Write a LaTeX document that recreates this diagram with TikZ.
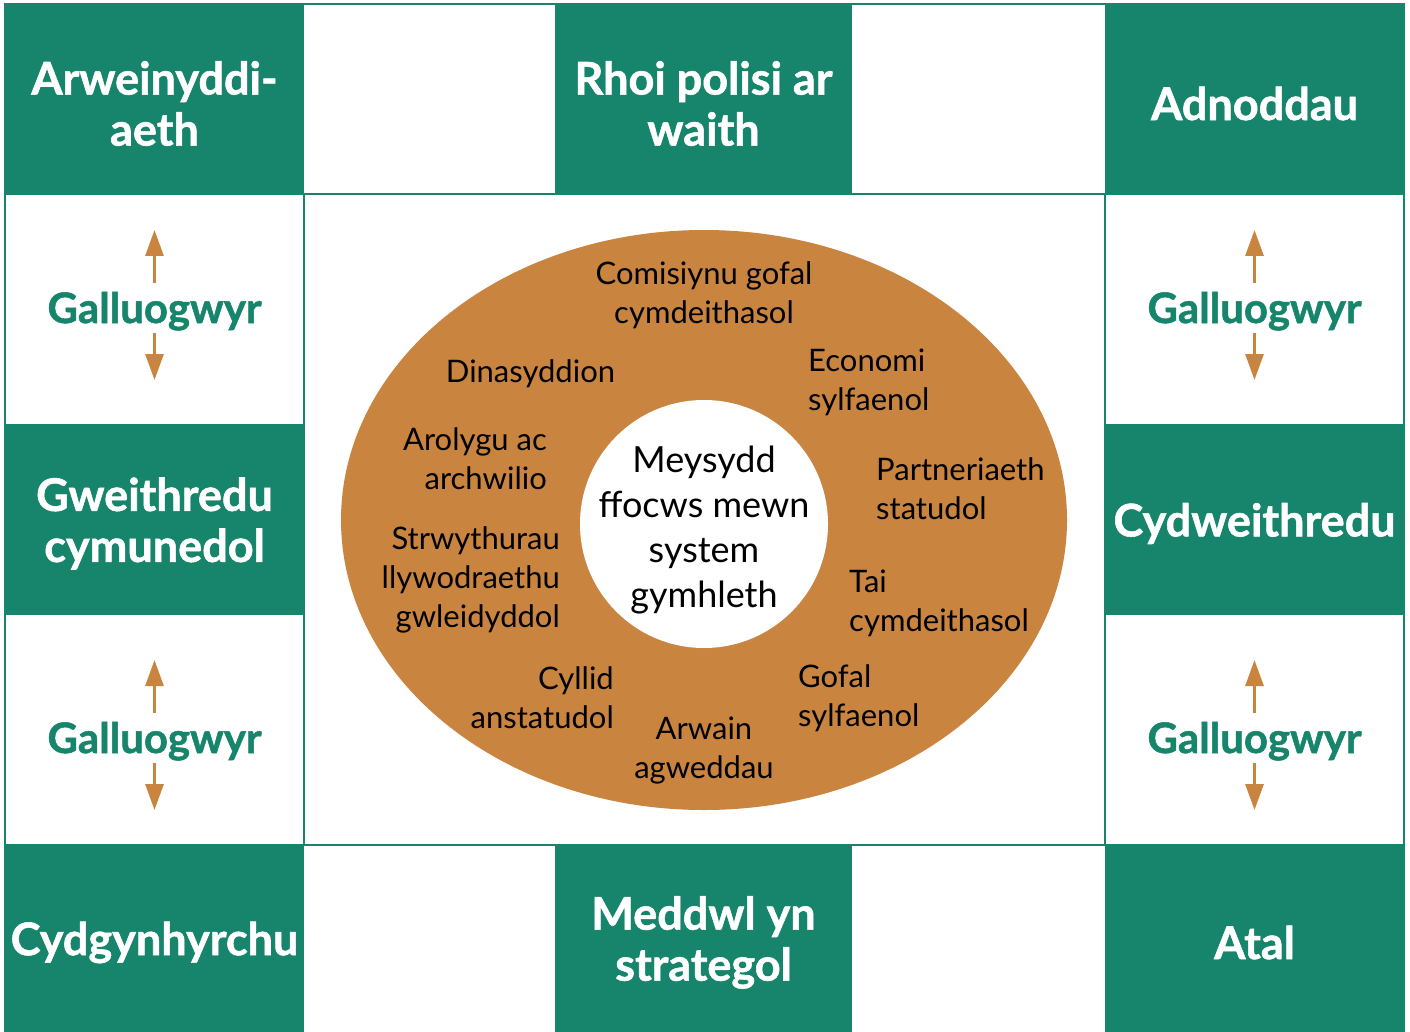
\documentclass[tikz,border=0pt]{standalone}
\usepackage{fontspec}
\setmainfont{Lato}[BoldFeatures={FakeBold=1.2}]
\usetikzlibrary{arrows.meta}
\definecolor{gwyrdd}{RGB}{22,133,108}
\definecolor{oren}{RGB}{201,132,64}

\begin{document}
\begin{tikzpicture}[x=1pt,y=-1pt,>={Triangle[width=18pt,length=26pt]},
blwch/.style={rectangle,fill=gwyrdd,inner sep=0pt,minimum width=299pt,minimum height=189pt},
pennawd/.style={inner sep=0pt,text=white,align=center,yshift=-4pt,
 font=\fontsize{45}{51}\selectfont\bfseries},
galluogwyr/.style={inner sep=0pt,text=gwyrdd,text height=40pt,text depth=10pt,
 font=\fontsize{42}{50}\selectfont\bfseries},
saeth/.style={->,draw=oren,fill=oren,line width=3pt},
ffin/.style={draw=gwyrdd,line width=2pt},
maes/.style={inner sep=0pt,font=\fontsize{31}{39}\selectfont}
]

\pgfmathsetmacro{\chwith}{154.5}
\pgfmathsetmacro{\canol}{704}
\pgfmathsetmacro{\de}{1254.5}

\useasboundingbox (0,0) rectangle (1410,1032);
\fill[white] (0,0) rectangle (1410,1032);

% fframiau
\draw[ffin] (5,4) rectangle (1404,1040);
\draw[ffin] (5,194) rectangle (304,425);
\draw[ffin] (5,614) rectangle (304,845);
\draw[ffin] (1105,194) rectangle (1404,425);
\draw[ffin] (1105,614) rectangle (1404,845);
\draw[ffin] (304,194) rectangle (1105,845);

% blychau gwyrdd
\node[blwch](blwch-tl) at (\chwith,99.5){};
\node[blwch,minimum width=297pt](blwch-tm) at (703.5,99.5){};
\node[blwch](blwch-tr) at (\de,99.5){};
\node[blwch](blwch-ml) at (\chwith,519.5){};
\node[blwch](blwch-mr) at (\de,519.5){};
\node[blwch,minimum height=187pt](blwch-bl) at (\chwith,938.5){};
\node[blwch,minimum width=297pt,minimum height=187pt](blwch-bm) at (703.5,938.5){};
\node[blwch,minimum height=187pt](blwch-br) at (\de,938.5){};

\node[pennawd](arweinyddiaeth) at (blwch-tl){Arweinyddi-\\aeth};
\node[pennawd](polisi) at (blwch-tm){Rhoi polisi ar\\waith};
\node[pennawd](adnoddau) at (blwch-tr){Adnoddau};
\node[pennawd](gweithredu) at (blwch-ml){Gweithredu\\cymunedol};
\node[pennawd](cydweithredu) at (blwch-mr){Cydweithredu};
\node[pennawd](cydgynhyrchu) at (blwch-bl){Cydgynhyrchu};
\node[pennawd](meddwl) at (blwch-bm){Meddwl yn\\strategol};
\node[pennawd](atal) at (blwch-br){Atal};

% galluogwyr
\node[galluogwyr](gal-l1) at (\chwith,308){Galluogwyr};
\node[galluogwyr](gal-l2) at (\chwith,738){Galluogwyr};
\node[galluogwyr](gal-r1) at (\de,308){Galluogwyr};
\node[galluogwyr](gal-r2) at (\de,738){Galluogwyr};

\coordinate (l1-up) at (\chwith,230);
\coordinate (l1-down) at (\chwith,380);
\coordinate (l2-up) at (\chwith,660);
\coordinate (l2-down) at (\chwith,810);
\coordinate (r1-up) at (\de,230);
\coordinate (r1-down) at (\de,380);
\coordinate (r2-up) at (\de,660);
\coordinate (r2-down) at (\de,810);

\begin{scope}[saeth]
\draw (gal-l1.north)--(l1-up);
\draw (gal-l1.south)--(l1-down);
\draw (gal-l2.north)--(l2-up);
\draw (gal-l2.south)--(l2-down);
\draw (gal-r1.north)--(r1-up);
\draw (gal-r1.south)--(r1-down);
\draw (gal-r2.north)--(r2-up);
\draw (gal-r2.south)--(r2-down);
\end{scope}

% yr elips
\fill[oren] (\canol,520) ellipse [x radius=363pt, y radius=290pt];
\fill[white] (\canol,524) circle [radius=124pt];
\node[inner sep=0pt,align=center,
 font=\fontsize{36}{45}\selectfont](craidd) at (\canol,530){Meysydd\\ffocws mewn\\system\\gymhleth};

\node[maes,align=center](comisiynu) at (\canol,295){Comisiynu gofal\\cymdeithasol};
\node[maes](dinasyddion) at (530.5,374){Dinasyddion};
\node[maes,anchor=west,align=left](economi) at (808,382){Economi\\sylfaenol};
\node[maes,anchor=east,align=right](arolygu) at (547,459){Arolygu ac\\archwilio};
\node[maes,anchor=west,align=left](partneriaeth) at (876,489){Partneriaeth\\statudol};
\node[maes,anchor=east,align=right](strwythurau) at (560,580){Strwythurau\\llywodraethu\\gwleidyddol};
\node[maes,anchor=west,align=left](tai) at (849,603){Tai\\cymdeithasol};
\node[maes,anchor=east,align=right](cyllid) at (614,698){Cyllid\\anstatudol};
\node[maes,anchor=west,align=left](gofal) at (798,698){Gofal\\sylfaenol};
\node[maes,align=center](arwain) at (\canol,751){Arwain\\agweddau};
\end{tikzpicture}
\end{document}
